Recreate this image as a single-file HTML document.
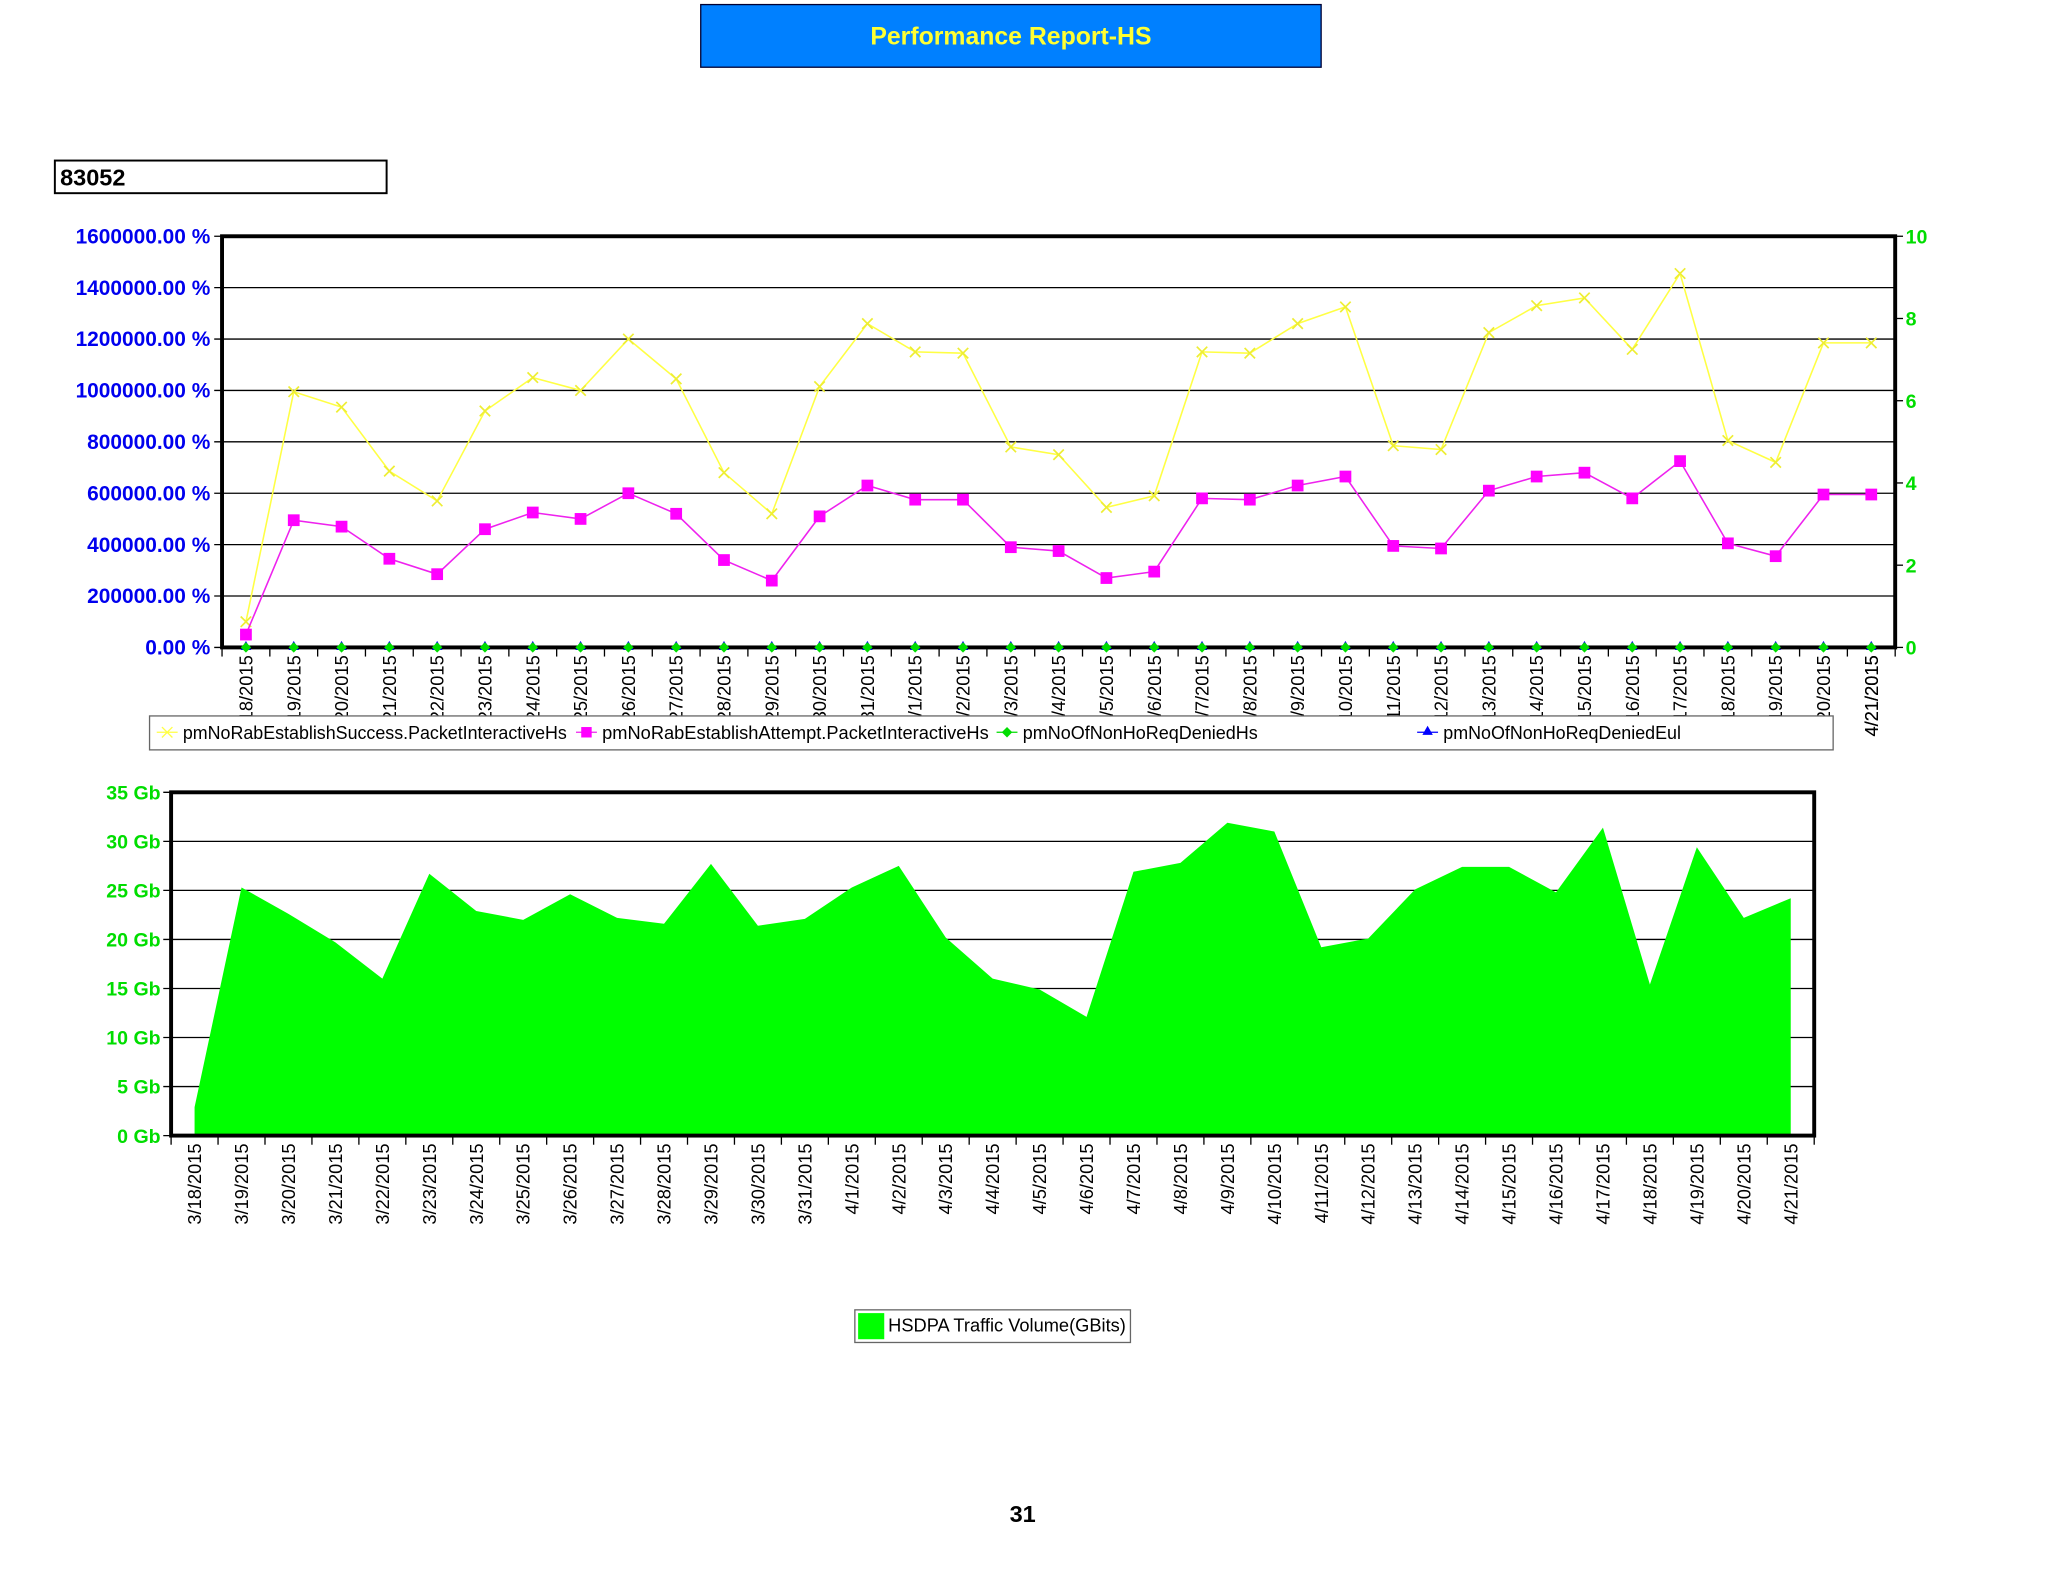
<!DOCTYPE html>
<html><head><meta charset="utf-8"><style>
html,body{margin:0;padding:0;background:#fff;}
svg{display:block;font-family:"Liberation Sans",sans-serif;}
</style></head><body>
<svg id="page" width="2048" height="1582" viewBox="0 0 1568 1212" preserveAspectRatio="none" xmlns="http://www.w3.org/2000/svg">
<rect x="536.5" y="3.5" width="475" height="48" fill="#0080ff" stroke="#003" stroke-width="1"/>
<text x="774" y="34" text-anchor="middle" font-size="19" font-weight="bold" fill="#ffff33">Performance Report-HS</text>
<rect x="42" y="123" width="254" height="25" fill="#fff" stroke="#000" stroke-width="1.5"/>
<text x="46" y="142" font-size="18" font-weight="bold" fill="#000">83052</text>
<g id="topChart"></g>
<g id="bottomChart"></g>
<text x="783" y="1166" text-anchor="middle" font-size="18" font-weight="bold" fill="#000">31</text>
</svg>
<script>
const categories=["3/18/2015","3/19/2015","3/20/2015","3/21/2015","3/22/2015","3/23/2015","3/24/2015","3/25/2015","3/26/2015","3/27/2015","3/28/2015","3/29/2015","3/30/2015","3/31/2015","4/1/2015","4/2/2015","4/3/2015","4/4/2015","4/5/2015","4/6/2015","4/7/2015","4/8/2015","4/9/2015","4/10/2015","4/11/2015","4/12/2015","4/13/2015","4/14/2015","4/15/2015","4/16/2015","4/17/2015","4/18/2015","4/19/2015","4/20/2015","4/21/2015"];
const successValues=[100000,995000,935000,686000,570000,920000,1050000,1000000,1200000,1045000,680000,520000,1015000,1260000,1150000,1145000,780000,750000,545000,590000,1150000,1145000,1260000,1325000,785000,770000,1225000,1330000,1360000,1160000,1455000,805000,720000,1185000,1185000];
const attemptValues=[50000,495000,470000,345000,285000,460000,525000,500000,600000,520000,340000,260000,510000,630000,575000,575000,390000,375000,270000,295000,580000,575000,630000,665000,395000,385000,610000,665000,680000,580000,725000,405000,355000,595000,595000];
const deniedHsValues=[0,0,0,0,0,0,0,0,0,0,0,0,0,0,0,0,0,0,0,0,0,0,0,0,0,0,0,0,0,0,0,0,0,0,0];
const deniedEulValues=[0,0,0,0,0,0,0,0,0,0,0,0,0,0,0,0,0,0,0,0,0,0,0,0,0,0,0,0,0,0,0,0,0,0,0];
const leftTicks=[0,200000,400000,600000,800000,1000000,1200000,1400000,1600000];
const rightTicks=[0,2,4,6,8,10];
const trafficValues=[2.9,25.3,22.6,19.7,16,26.7,22.9,22,24.6,22.2,21.6,27.7,21.4,22.1,25.3,27.5,20.2,16,14.9,12.1,26.9,27.8,31.9,31,19.2,20.1,25.1,27.4,27.4,24.8,31.4,15.4,29.4,22.2,24.2];
const trafficTicks=[0,5,10,15,20,25,30,35];

const NS="http://www.w3.org/2000/svg";
function mk(parent,tag,attrs,text){const e=document.createElementNS(NS,tag);for(const k in attrs)e.setAttribute(k,attrs[k]);if(text!==undefined)e.textContent=text;parent.appendChild(e);return e;}

// ---- top chart ----
const topChart=document.getElementById('topChart');
const T={x0:170,x1:1451,y0:181,y1:496};
const n=categories.length;
const bw=(T.x1-T.x0)/n;
const tx=i=>T.x0+bw*(i+0.5);
const tyL=v=>T.y1-(v/1600000)*(T.y1-T.y0);
const tyR=v=>T.y1-(v/10)*(T.y1-T.y0);
leftTicks.forEach(v=>{
  const y=tyL(v);
  const g=mk(topChart,'line',{x1:T.x0-6,x2:T.x1,y1:y,y2:y,stroke:'#000','stroke-width':1});
  
  
  const t=mk(topChart,'text',{x:161,y:y+5.5,'text-anchor':'end','font-size':16,'font-weight':'bold',fill:'#0000ee'},v.toFixed(2)+' %');
  
  
});
rightTicks.forEach(v=>{
  const y=tyR(v);
  mk(topChart,'line',{x1:T.x1,x2:T.x1+6,y1:y,y2:y,stroke:'#000'});
  const t=mk(topChart,'text',{x:1459,y:y+5.5,'font-size':15,'font-weight':'bold',fill:'#00dd00'},String(v));
  
  
});
for(let i=0;i<=n;i++){const x=T.x0+bw*i;mk(topChart,'line',{x1:x,x2:x,y1:T.y1,y2:T.y1+7,stroke:'#000'});}
categories.forEach((c,i)=>{
  const t=mk(topChart,'text',{transform:`translate(${tx(i)+5},${T.y1+6}) rotate(-90)`,'text-anchor':'end','font-size':14,fill:'#000'},c);
  
  
});
const frame=mk(topChart,'rect',{x:T.x0,y:T.y0,width:T.x1-T.x0,height:T.y1-T.y0,fill:'none',stroke:'#000','stroke-width':3});


const sp=mk(topChart,'polyline',{points:successValues.map((v,i)=>tx(i)+','+tyL(v)).join(' '),fill:'none',stroke:'#ffff44','stroke-width':1.2});


successValues.forEach((v,i)=>{const x=tx(i),y=tyL(v);
  const m=mk(topChart,'path',{d:`M${x-4},${y-4}L${x+4},${y+4}M${x-4},${y+4}L${x+4},${y-4}`,stroke:'#eeee33','stroke-width':1.3});
  
  });
const ap=mk(topChart,'polyline',{points:attemptValues.map((v,i)=>tx(i)+','+tyL(v)).join(' '),fill:'none',stroke:'#ee22ee','stroke-width':1.2});


attemptValues.forEach((v,i)=>{const x=tx(i),y=tyL(v);
  const m=mk(topChart,'rect',{x:x-4.5,y:y-4.5,width:9,height:9,fill:'#ff00ff'});
  
  });
deniedEulValues.forEach((v,i)=>{const x=tx(i),y=tyR(v);
  const m=mk(topChart,'path',{d:`M${x},${y-5}L${x+4},${y+2}L${x-4},${y+2}Z`,fill:'#0000ff'});
  
  });
deniedHsValues.forEach((v,i)=>{const x=tx(i),y=tyR(v);
  const m=mk(topChart,'path',{d:`M${x},${y-4}L${x+4},${y}L${x},${y+4}L${x-4},${y}Z`,fill:'#00dd00'});
  
  });
const lg=mk(topChart,'rect',{x:114.5,y:548.5,width:1289,height:26,fill:'#fff',stroke:'#666'});


const legendItems=[["pmNoRabEstablishSuccess.PacketInteractiveHs",'#ffff44','x',120,294],["pmNoRabEstablishAttempt.PacketInteractiveHs",'#ee22ee','s',441,296],["pmNoOfNonHoReqDeniedHs",'#00dd00','d',763,180],["pmNoOfNonHoReqDeniedEul",'#0000ff','t',1085,182]];
legendItems.forEach(([label,col,sh,x,len])=>{
  const y=561;
  mk(topChart,'line',{x1:x,x2:x+16,y1:y,y2:y,stroke:col});
  const c=x+8;
  if(sh==='x')mk(topChart,'path',{d:`M${c-4},${y-4}L${c+4},${y+4}M${c-4},${y+4}L${c+4},${y-4}`,stroke:col});
  if(sh==='s')mk(topChart,'rect',{x:c-4,y:y-4,width:8,height:8,fill:'#ff00ff'});
  if(sh==='d')mk(topChart,'path',{d:`M${c},${y-4}L${c+4},${y}L${c},${y+4}L${c-4},${y}Z`,fill:col});
  if(sh==='t')mk(topChart,'path',{d:`M${c},${y-5}L${c+4},${y+2}L${c-4},${y+2}Z`,fill:col});
  const t=mk(topChart,'text',{x:x+20,y:y+5,'font-size':14,fill:'#000',textLength:len,lengthAdjust:'spacingAndGlyphs'},label);
  
  
});
{const i=n-1;const t=mk(topChart,'text',{transform:`translate(${tx(i)+5},${T.y1+6}) rotate(-90)`,'text-anchor':'end','font-size':14,fill:'#000'},categories[i]);
 
 }

// ---- bottom chart ----
const botChart=document.getElementById('bottomChart');
const B={x0:131,x1:1389,y0:607,y1:870};
const bb=(B.x1-B.x0)/n;
const bx=i=>B.x0+bb*(i+0.5);
const by=v=>B.y1-(v/35)*(B.y1-B.y0);
trafficTicks.forEach(v=>{
  const y=by(v);
  const g=mk(botChart,'line',{x1:B.x0-6,x2:B.x1,y1:y,y2:y,stroke:'#000','stroke-width':1});
  
  
  const t=mk(botChart,'text',{x:123,y:y+5.5,'text-anchor':'end','font-size':15,'font-weight':'bold',fill:'#00dd00'},v+' Gb');
  
  
});
let d=`M${bx(0)},${B.y1}`;
trafficValues.forEach((v,i)=>{d+=`L${bx(i)},${by(v)}`;});
d+=`L${bx(n-1)},${B.y1}Z`;
const area=mk(botChart,'path',{d:d,fill:'#00ff00'});


for(let i=0;i<=n;i++){const x=B.x0+bb*i;mk(botChart,'line',{x1:x,x2:x,y1:B.y1,y2:B.y1+7,stroke:'#000'});}
categories.forEach((c,i)=>{
  const t=mk(botChart,'text',{transform:`translate(${bx(i)+5},${B.y1+6}) rotate(-90)`,'text-anchor':'end','font-size':14,fill:'#000'},c);
  
  
});
const bf=mk(botChart,'rect',{x:B.x0,y:B.y0,width:B.x1-B.x0,height:B.y1-B.y0,fill:'none',stroke:'#000','stroke-width':3});


const bl=mk(botChart,'rect',{x:654.5,y:1003.5,width:211,height:25,fill:'#fff',stroke:'#666'});


mk(botChart,'rect',{x:657,y:1006,width:20,height:20,fill:'#00ff00'});
const blt=mk(botChart,'text',{x:680,y:1020,'font-size':14,fill:'#000',textLength:182,lengthAdjust:'spacingAndGlyphs'},'HSDPA Traffic Volume(GBits)');


</script>
</body></html>
